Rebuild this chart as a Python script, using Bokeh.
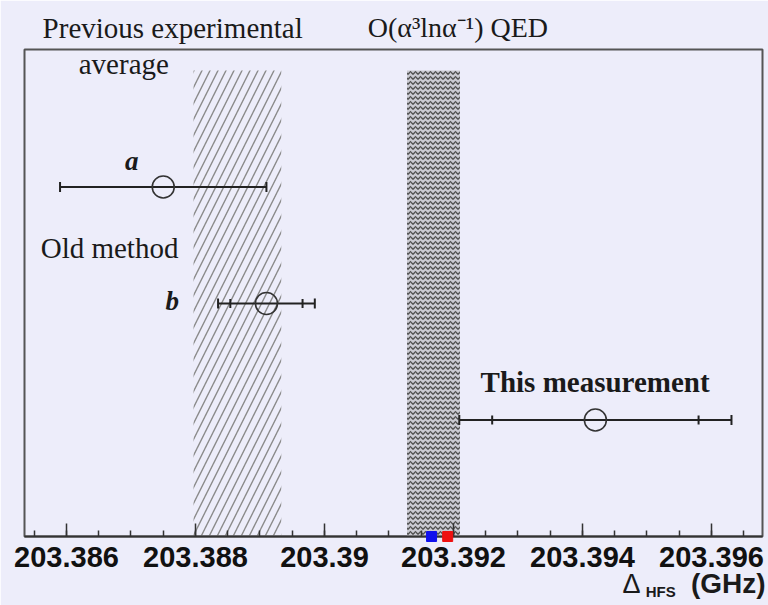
import math
from bokeh.plotting import figure
from bokeh.models import FixedTicker, CustomJSTickFormatter, Range1d
from bokeh.core.properties import value
from bokeh.embed import file_html
from bokeh.resources import INLINE

# ---------------- data ----------------
meas_names = ["a", "b", "This measurement"]
meas_value = [203.3875, 203.3891, 203.3942]          # GHz
meas_err_total = [0.0016, 0.00075, 0.00211]          # GHz
meas_err_stat = [None, 0.00056, 0.0016]              # GHz (inner ticks)
meas_row = [0.75, 0.50, 0.25]

prev_avg_value = 203.38865
prev_avg_err = 0.00068
qed_value = 203.39169
qed_err = 0.00041
theory_points = [203.39166, 203.39191]
theory_colors = ["#1010ee", "#ee1010"]

major_ticks = [203.386, 203.388, 203.390, 203.392, 203.394, 203.396]
minor_ticks = [203.3855 + 0.0005 * i for i in range(23)]

# ---------------- style ----------------
BG = "#EDEDFA"
SERIF = "Liberation Serif"
SANS = "Liberation Sans"
INK = "#222222"
BAND_TOP = 1.0

p = figure(width=768, height=605,
           x_range=Range1d(203.385349, 203.396791), y_range=Range1d(0, 1.045),
           output_backend="svg", toolbar_location=None, y_axis_location=None,
           min_border_left=24, min_border_right=6, min_border_top=49, min_border_bottom=69,
           background_fill_color=BG, border_fill_color=BG)
p.grid.visible = False
p.outline_line_color = "#555555"
p.outline_line_width = 2

# bands
p.quad(left=[prev_avg_value - prev_avg_err], right=[prev_avg_value + prev_avg_err],
       bottom=[0], top=[BAND_TOP], fill_alpha=0, line_alpha=0,
       hatch_pattern="/", hatch_scale=16, hatch_weight=1.4, hatch_color="#8a8a8a")
p.quad(left=[qed_value - qed_err], right=[qed_value + qed_err],
       bottom=[0], top=[BAND_TOP], fill_color="#c0c0c8", fill_alpha=0.8, line_alpha=0,
       hatch_pattern="horizontal_wave", hatch_scale=5, hatch_weight=1.3, hatch_color="#505050")

# error bars
lo = [v - e for v, e in zip(meas_value, meas_err_total)]
hi = [v + e for v, e in zip(meas_value, meas_err_total)]
p.segment(x0=lo, x1=hi, y0=meas_row, y1=meas_row, line_color=INK, line_width=2)
cap_x = lo + hi
cap_y = meas_row + meas_row
p.scatter(x=cap_x, y=cap_y, marker="dash", angle=math.pi / 2, size=10,
          line_color=INK, line_width=2)
in_x, in_y = [], []
for v, e, r in zip(meas_value, meas_err_stat, meas_row):
    if e is not None:
        in_x += [v - e, v + e]
        in_y += [r, r]
p.scatter(x=in_x, y=in_y, marker="dash", angle=math.pi / 2, size=9,
          line_color=INK, line_width=2)
p.scatter(x=meas_value, y=meas_row, marker="circle", size=22, fill_alpha=0,
          line_color="#333333", line_width=1.6)

# theory points on the axis
p.scatter(x=theory_points, y=[0, 0], marker="square", size=10,
          fill_color=theory_colors, line_color=theory_colors, level="overlay")

# axis
ax = p.xaxis[0]
ax.ticker = FixedTicker(ticks=major_ticks, minor_ticks=minor_ticks)
ax.formatter = CustomJSTickFormatter(code="return tick.toFixed(3).replace(/0+$/, '');")
ax.major_tick_in = 13
ax.major_tick_out = 0
ax.minor_tick_in = 6
ax.minor_tick_out = 0
ax.axis_line_color = "#333333"
ax.axis_line_width = 2
ax.major_tick_line_color = "#333333"
ax.major_tick_line_width = 1.5
ax.minor_tick_line_color = "#333333"
ax.minor_tick_line_width = 1.5
ax.major_label_text_font = SANS
ax.major_label_text_font_style = "bold"
ax.major_label_text_font_size = "29px"
ax.major_label_text_color = "#111111"
ax.major_label_standoff = 10

def lab(x, y, text, font=SERIF, size="29px", style="normal", align="left"):
    p.text(x=[x], y=[y], text=[text], text_font=value(font), text_font_size=value(size),
           text_font_style=style, text_align=align, level="overlay",
           text_baseline="alphabetic", text_color="#1a1a1a")

lab(203.38563, 1.092, "Previous experimental")
lab(203.38619, 1.013, "average")
lab(203.39067, 1.092, "O(α³lnα⁻¹) QED", size="28px")
lab(203.38560, 0.618, "Old method")
lab(203.38701, 0.806, "a", size="27px", style="bold italic", align="center")
lab(203.38764, 0.506, "b", size="27px", style="bold italic", align="center")
lab(203.39242, 0.331, "This measurement", style="bold")
lab(203.39462, -0.101, "Δ", font=SANS, size="27px")
lab(203.39498, -0.117, "HFS", font=SANS, size="15px", style="bold")
lab(203.39684, -0.101, "(GHz)", font=SANS, size="28px", style="bold", align="right")

open("out.html", "w").write(file_html(p, INLINE))
